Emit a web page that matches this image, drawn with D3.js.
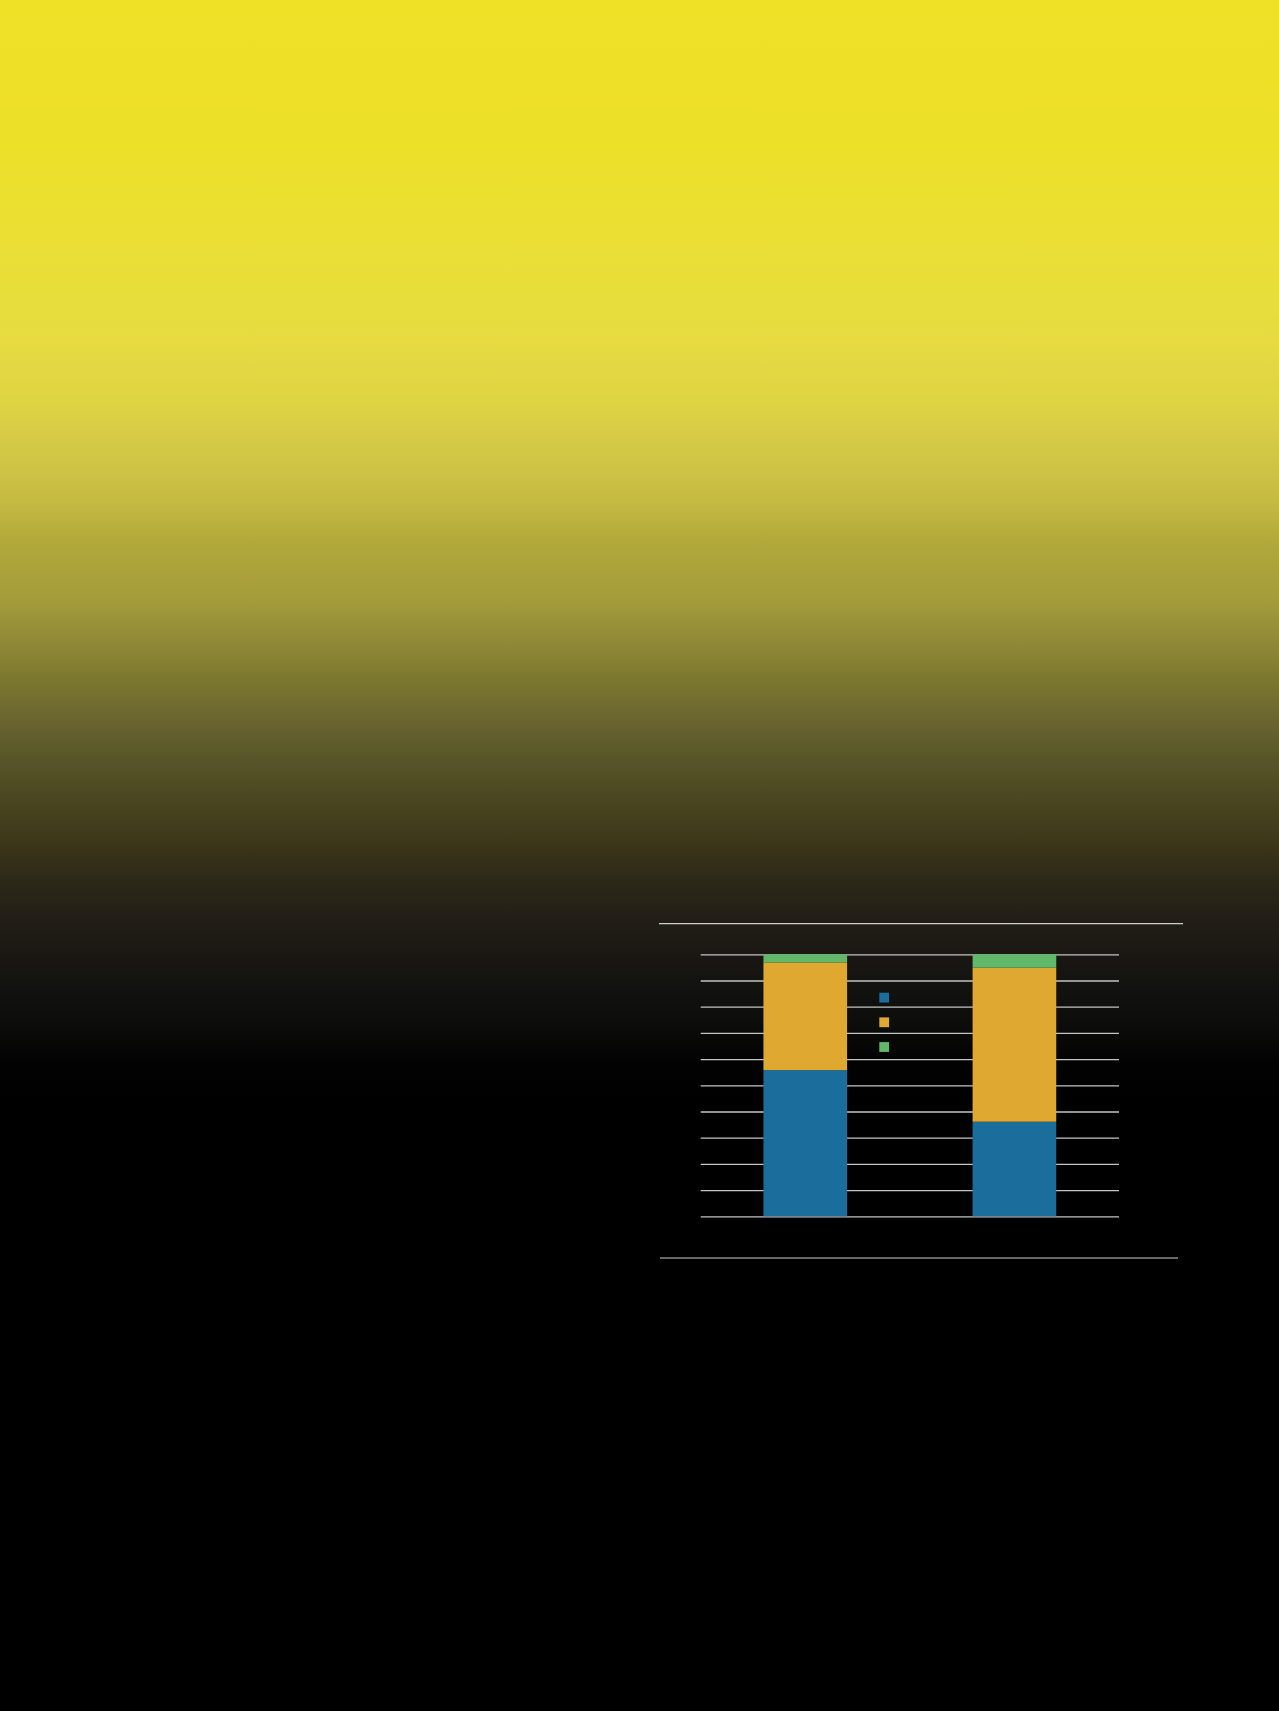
<!DOCTYPE html>
<html>
<head>
<meta charset="utf-8">
<script src="https://cdn.jsdelivr.net/npm/d3@7"></script>
<style>
  html, body { margin: 0; padding: 0; background: #000; }
  svg { display: block; }
</style>
</head>
<body>
<div id="chart"></div>
<script>
// categories and stacked shares (percent)
const categories = ['A', 'B'];
const seriesNames = ['blue', 'orange', 'green'];
const blueValues = [55.8, 36.1];
const orangeValues = [41.1, 58.8];
const greenValues = [3.1, 5.1];
const yTicks = [0, 10, 20, 30, 40, 50, 60, 70, 80, 90, 100];

const colors = ['#1b6e9c', '#dea831', '#62b86a'];

(function () {
  const width = 1279, height = 1711;

  const svg = d3.select('#chart')
    .append('svg')
    .attr('width', width)
    .attr('height', height);

  //background fades from yellow to black
  const stops = [
    [0, '#efe126'], [150, '#ede029'], [300, '#e8de3b'], [350, '#e6da42'],
    [400, '#dfd442'], [450, '#d3c846'], [500, '#c6bb42'], [540, '#b2a93a'],
    [600, '#a49c3a'], [640, '#918a38'], [680, '#7b772e'], [720, '#6a6530'],
    [760, '#575528'], [800, '#4a4620'], [840, '#3d3819'], [880, '#2c2918'],
    [920, '#221e17'], [950, '#1c1813'], [980, '#131310'], [1020, '#0d0d0c'],
    [1060, '#030303'], [1100, '#000000']
  ];
  const grad = svg.append('defs').append('linearGradient')
    .attr('id', 'bg')
    .attr('x1', 0).attr('y1', 0).attr('x2', 0).attr('y2', 1);
  grad.selectAll('stop')
    .data(stops)
    .enter()
    .append('stop')
    .attr('offset', d => d[0] / height)
    .attr('stop-color', d => d[1]);

  svg.append('rect')
    .attr('width', width)
    .attr('height', height)
    .attr('fill', 'url(#bg)');

  //frame rules above and below the chart
  svg.append('line')
    .attr('x1', 659).attr('x2', 1183)
    .attr('y1', 923.7).attr('y2', 923.7)
    .attr('stroke', '#cfcfcf').attr('stroke-width', 1.2);
  svg.append('line')
    .attr('x1', 660).attr('x2', 1178)
    .attr('y1', 1258).attr('y2', 1258)
    .attr('stroke', '#cfcfcf').attr('stroke-width', 1.2);

  const xScale = d3.scaleBand()
    .domain(categories)
    .range([700.7, 1119])
    .paddingInner(0.6)
    .paddingOuter(0.3);

  const yScale = d3.scaleLinear()
    .domain([0, 100])
    .range([1216.3, 954.3]);

  //gridlines via axis ticks, no labels
  const yAxis = d3.axisLeft(yScale)
    .tickValues(yTicks)
    .tickSize(-(1119 - 700.7))
    .tickFormat('');

  const grid = svg.append('g')
    .attr('transform', 'translate(700.7, 0)')
    .call(yAxis);
  grid.select('.domain').remove();
  grid.selectAll('.tick line')
    .attr('stroke', '#c4c4c4')
    .attr('stroke-width', 1.3);

  const data = categories.map((c, i) => ({
    cat: c,
    blue: blueValues[i],
    orange: orangeValues[i],
    green: greenValues[i]
  }));

  const stacked = d3.stack().keys(seriesNames)(data);

  const layer = svg.selectAll('g.layer')
    .data(stacked)
    .enter()
    .append('g')
    .attr('class', 'layer')
    .attr('fill', (d, i) => colors[i]);

  layer.selectAll('rect')
    .data(d => d)
    .enter()
    .append('rect')
    .attr('x', d => xScale(d.data.cat))
    .attr('y', d => yScale(d[1]))
    .attr('width', xScale.bandwidth())
    .attr('height', d => yScale(d[0]) - yScale(d[1]));

  //legend swatches (no labels in the source)
  const legend = svg.append('g')
    .attr('transform', 'translate(879.3, 992.7)');
  legend.selectAll('rect')
    .data(seriesNames)
    .enter()
    .append('rect')
    .attr('x', 0)
    .attr('y', (d, i) => i * 24.7)
    .attr('width', 9.8)
    .attr('height', 9.8)
    .attr('fill', (d, i) => colors[i]);
})();
</script>
</body>
</html>
